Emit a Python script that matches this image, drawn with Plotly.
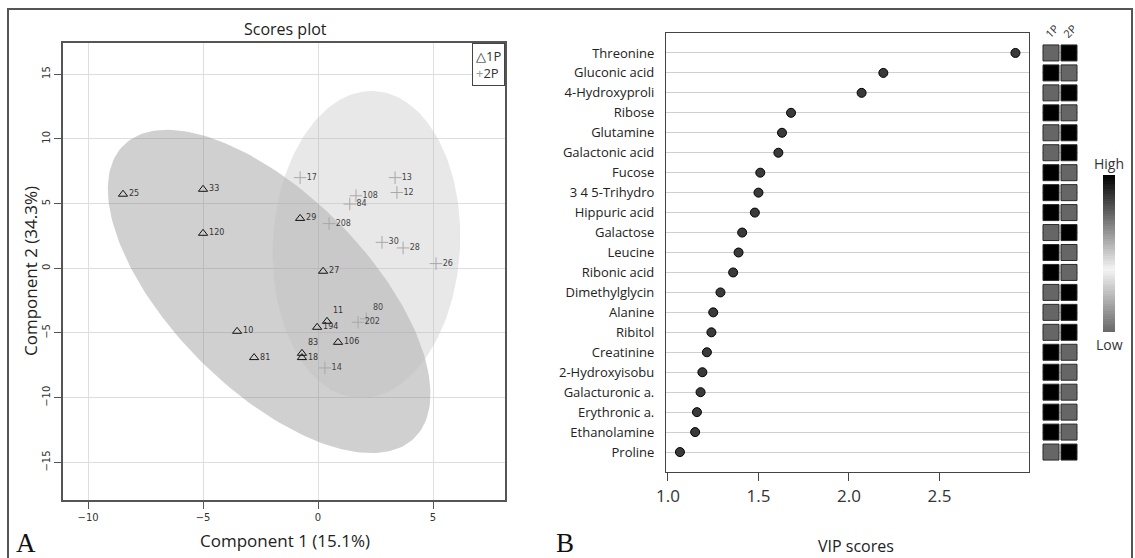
import numpy as np
import plotly.graph_objects as go

W, H = 1135, 558

# ---------------- data ----------------
ids_1P = ["25", "33", "120", "29", "27", "11", "194", "10", "106", "83", "18", "81"]
x_1P = [-8.48, -5.0, -5.0, -0.78, 0.22, 0.39, -0.04, -3.52, 0.87, -0.70, -0.70, -2.78]
y_1P = [5.72, 6.1, 2.7, 3.85, -0.23, -4.1, -4.56, -4.87, -5.72, -6.57, -6.9, -6.9]

ids_2P = ["17", "13", "12", "108", "84", "208", "30", "28", "26", "202", "80", "14"]
x_2P = [-0.78, 3.35, 3.43, 1.65, 1.38, 0.48, 2.78, 3.70, 5.13, 1.74, 2.10, 0.30]
y_2P = [7.0, 7.0, 5.85, 5.6, 4.96, 3.45, 2.0, 1.57, 0.36, -4.17, -3.9, -7.7]

metabolites = ["Threonine", "Gluconic acid", "4-Hydroxyproli", "Ribose", "Glutamine",
               "Galactonic acid", "Fucose", "3 4 5-Trihydro", "Hippuric acid", "Galactose",
               "Leucine", "Ribonic acid", "Dimethylglycin", "Alanine", "Ribitol",
               "Creatinine", "2-Hydroxyisobu", "Galacturonic a.", "Erythronic a.",
               "Ethanolamine", "Proline"]
vip = [2.92, 2.19, 2.07, 1.68, 1.63, 1.61, 1.51, 1.50, 1.48, 1.41, 1.39, 1.36,
       1.29, 1.25, 1.24, 1.215, 1.19, 1.18, 1.16, 1.15, 1.066]
level_1P = [0, 1, 0, 1, 0, 0, 1, 1, 1, 0, 1, 1, 0, 0, 0, 1, 1, 1, 1, 1, 0]
level_2P = [1 - v for v in level_1P]
groups = ["1P", "2P"]

heat_scale = [[0, "#666666"], [0.4, "#f4f4f4"], [1, "#000000"]]

# labels that sit on crowded points are nudged upward to stay readable
raised_labels = {"11", "83", "80"}


def px_x(p):
    return p / W


def px_y(p):
    return 1 - p / H


def conf_ellipse(xs, ys, level=0.95, n=200):
    xs = np.asarray(xs, float)
    ys = np.asarray(ys, float)
    c = np.array([xs.mean(), ys.mean()])
    cov = np.cov(np.vstack([xs, ys]))
    t = np.sqrt(-2 * np.log(1 - level))
    w, v = np.linalg.eigh(cov)
    a = np.linspace(0, 2 * np.pi, n)
    circ = np.vstack([np.cos(a), np.sin(a)])
    pts = c[:, None] + t * (v @ (np.sqrt(w)[:, None] * circ))
    return pts[0], pts[1]


def label_pos(ids):
    return ["top right" if i in raised_labels else "middle right" for i in ids]


fig = go.Figure()

# ellipses
ex1, ey1 = conf_ellipse(x_1P, y_1P)
ex2, ey2 = conf_ellipse(x_2P, y_2P)
fig.add_trace(go.Scatter(x=ex1, y=ey1, mode="lines", fill="toself",
                         fillcolor="rgba(128,128,128,0.37)", line=dict(width=0),
                         hoverinfo="skip", showlegend=False, xaxis="x", yaxis="y"))
fig.add_trace(go.Scatter(x=ex2, y=ey2, mode="lines", fill="toself",
                         fillcolor="rgba(190,190,190,0.35)", line=dict(width=0),
                         hoverinfo="skip", showlegend=False, xaxis="x", yaxis="y"))

# points
fig.add_trace(go.Scatter(x=x_2P, y=y_2P, mode="markers+text", text=ids_2P,
                         textposition=label_pos(ids_2P),
                         textfont=dict(size=8, color="#444", family="DejaVu Sans"),
                         marker=dict(symbol="cross-thin-open", size=9, color="#a8a8a8",
                                     line=dict(color="#a8a8a8", width=1)),
                         showlegend=False, xaxis="x", yaxis="y"))
fig.add_trace(go.Scatter(x=x_1P, y=y_1P, mode="markers+text", text=ids_1P,
                         textposition=label_pos(ids_1P),
                         textfont=dict(size=8, color="#333", family="DejaVu Sans"),
                         marker=dict(symbol="triangle-up-open", size=8,
                                     color="#111", line=dict(color="#111", width=1)),
                         showlegend=False, xaxis="x", yaxis="y"))

# VIP dots
ypos = list(range(len(metabolites), 0, -1))
fig.add_trace(go.Scatter(x=vip, y=ypos, mode="markers",
                         marker=dict(size=9, color="#3a3a3a", line=dict(color="#000", width=1)),
                         showlegend=False, xaxis="x2", yaxis="y2"))

# heatmap cells
hx, hy, hv = [], [], []
for gi, lev in enumerate([level_1P, level_2P]):
    for yi, v in zip(ypos, lev):
        hx.append(gi)
        hy.append(yi)
        hv.append(v)
fig.add_trace(go.Scatter(
    x=hx, y=hy, mode="markers", showlegend=False, xaxis="x3", yaxis="y2",
    marker=dict(symbol="square", size=16, color=hv, cmin=0, cmax=1,
                colorscale=heat_scale, line=dict(color="#2a2a2a", width=1),
                showscale=False)))

# colour key (gradient strip) on its own small axes
key_levels = np.linspace(0, 1, 64)
fig.add_trace(go.Heatmap(z=[[v] for v in key_levels], y=key_levels, x=[0],
                         colorscale=heat_scale, zmin=0, zmax=1, showscale=False,
                         hoverinfo="skip", xaxis="x4", yaxis="y4"))

font_main = "Open Sans"
fig.update_layout(
    width=W, height=H, margin=dict(l=0, r=0, t=0, b=0, autoexpand=False),
    paper_bgcolor="white", plot_bgcolor="white",
    font=dict(family=font_main, color="#333"),
    xaxis=dict(domain=[px_x(63), px_x(505)], range=[-11.09, 8.13], anchor="y",
               automargin=False,
               tickvals=[-10, -5, 0, 5], showgrid=True, gridcolor="#dedede",
               zeroline=False, showline=True, mirror=True, linecolor="#555", linewidth=1.5,
               ticks="outside", ticklen=7, tickcolor="#555",
               tickfont=dict(size=10, color="#333", family="DejaVu Sans")),
    yaxis=dict(domain=[px_y(500), px_y(43)], range=[-17.9, 17.4], anchor="x",
               automargin=False,
               tickvals=[-15, -10, -5, 0, 5, 10, 15], showgrid=True, gridcolor="#dedede",
               zeroline=False, showline=True, mirror=True, linecolor="#555", linewidth=1.5,
               ticks="outside", ticklen=7, tickcolor="#555", tickangle=-90,
               tickfont=dict(size=10, color="#333", family="DejaVu Sans")),
    xaxis2=dict(domain=[px_x(666), px_x(1029)], range=[0.989, 2.995], anchor="y2",
                automargin=False,
                tickvals=[1.0, 1.5, 2.0, 2.5], tickformat=".1f", showgrid=False,
                zeroline=False, showline=True, mirror=True, linecolor="#444", linewidth=1.2,
                ticks="outside", ticklen=8, tickcolor="#444",
                tickfont=dict(size=17, color="#333")),
    yaxis2=dict(domain=[px_y(472), px_y(33)], range=[0, 22], anchor="x2",
                automargin=False,
                tickvals=ypos, ticktext=metabolites, showgrid=True, gridcolor="#cfcfcf",
                gridwidth=1, zeroline=False, showline=True, mirror=True,
                linecolor="#444", linewidth=1.2, ticks="", ticklabelstandoff=8,
                tickfont=dict(size=13, color="#222")),
    xaxis3=dict(domain=[px_x(1042), px_x(1078)], range=[-0.5, 1.5], anchor="y2",
                visible=False, automargin=False),
    xaxis4=dict(domain=[px_x(1103), px_x(1115)], anchor="y4", visible=False,
                automargin=False),
    yaxis4=dict(domain=[px_y(332), px_y(175)], anchor="x4", visible=False,
                range=[0, 1], automargin=False),
)

ann = [
    dict(text="Scores plot", x=px_x(285), y=px_y(29), font=dict(size=16, color="#222")),
    dict(text="Component 1 (15.1%)", x=px_x(285), y=px_y(540), font=dict(size=17, color="#222")),
    dict(text="Component 2 (34.3%)", x=px_x(30), y=px_y(271), textangle=-90,
         font=dict(size=17, color="#222")),
    dict(text="VIP scores", x=px_x(856), y=px_y(546), font=dict(size=16, color="#222")),
    dict(text="A", x=px_x(26), y=px_y(543), font=dict(size=27, color="#111", family="Liberation Serif")),
    dict(text="B", x=px_x(565), y=px_y(543), font=dict(size=27, color="#111", family="Liberation Serif")),
    dict(text="High", x=px_x(1109), y=px_y(163), font=dict(size=14, color="#333")),
    dict(text="Low", x=px_x(1109), y=px_y(344), font=dict(size=14, color="#333")),
]
for a in ann:
    a.update(xref="paper", yref="paper", showarrow=False, xanchor="center", yanchor="middle")
    fig.add_annotation(**a)

for gi, g in enumerate(groups):
    fig.add_annotation(text=g, x=gi, y=px_y(31), xref="x3", yref="paper", textangle=-45,
                       showarrow=False, font=dict(size=11, color="#333"),
                       xanchor="center", yanchor="middle")

# legend box for scores plot
fig.add_annotation(
    text="<span style='color:#222'>△</span>1P<br><span style='color:#999'>+</span>2P",
    x=px_x(505), y=px_y(43), xref="paper", yref="paper", xanchor="right", yanchor="top",
    align="left", showarrow=False, bordercolor="#444", borderwidth=1, borderpad=3,
    bgcolor="white", font=dict(size=13, color="#333"))

# outer frame
fig.add_shape(type="rect", xref="paper", yref="paper", x0=px_x(8), x1=px_x(1132),
              y0=-0.05, y1=px_y(9), line=dict(color="#555", width=2))

fig.write_html("out.html")
